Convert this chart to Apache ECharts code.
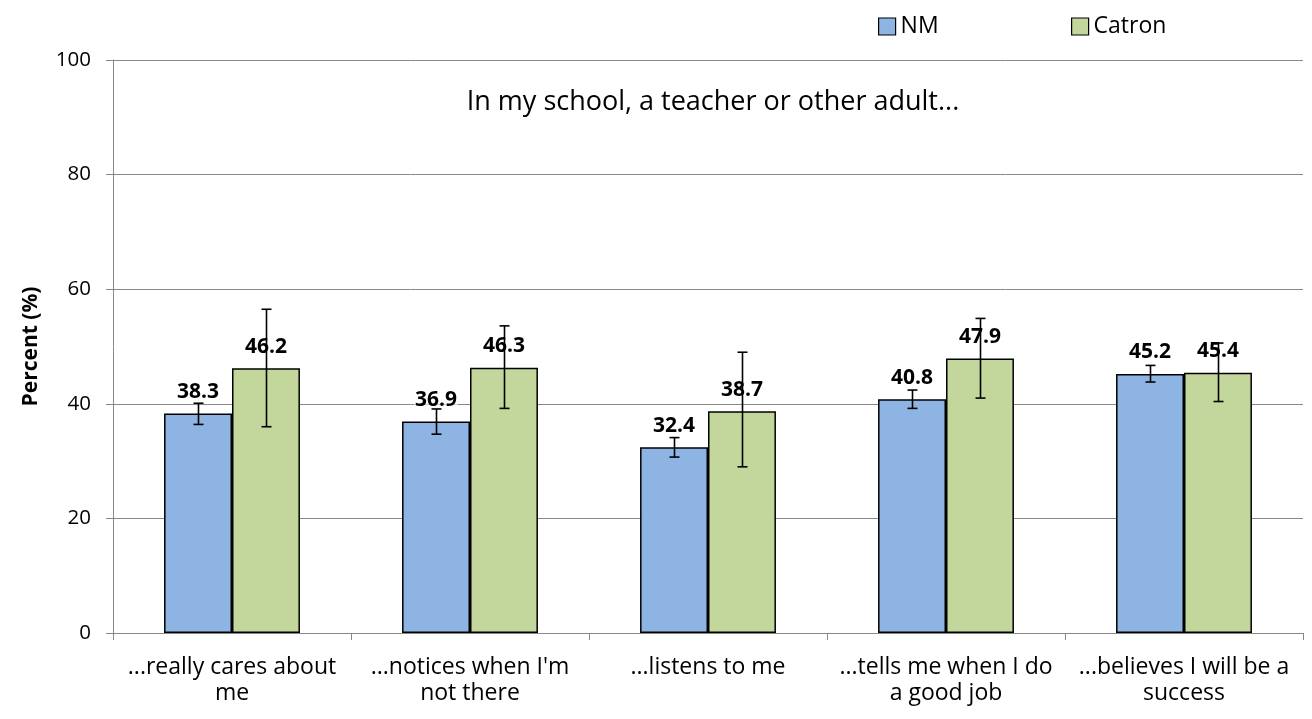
<!DOCTYPE html>
<html>
<head>
<meta charset="utf-8">
<script src="https://cdn.jsdelivr.net/npm/echarts@6/dist/echarts.min.js"></script>
<style>
  html, body { margin: 0; padding: 0; background: #fff; }
  #chart { width: 1312px; height: 719px; }
</style>
</head>
<body>
<div id="chart"></div>
<script>
// Survey items (wrapped onto two lines for the axis)
const categories = [
  '...really cares about\nme',
  '...notices when I\'m\nnot there',
  '...listens to me',
  '...tells me when I do\na good job',
  '...believes I will be a\nsuccess'
];
const seriesNames = ['NM', 'Catron'];

// Percent responding, with 95% confidence bounds
const nmValues = [38.3, 36.9, 32.4, 40.8, 45.2];
const nmLow = [36.4, 34.7, 30.7, 39.2, 43.8];
const nmHigh = [40.1, 39.1, 34.1, 42.4, 46.7];

const catronValues = [46.2, 46.3, 38.7, 47.9, 45.4];
const catronLow = [36.0, 39.2, 29.0, 41.0, 40.4];
const catronHigh = [56.5, 53.6, 49.0, 54.9, 50.6];

const yTicks = [0, 20, 40, 60, 80, 100];

const FONT = '"Open Sans", "Noto Sans", sans-serif';
const BAR_CATEGORY_GAP = 0.429;

const chart = echarts.init(document.getElementById('chart'));

// Error bar drawn at the centre of the given series' bar (side -1 = left bar, +1 = right bar)
function errorBarSeries(name, low, high, side) {
  return {
    type: 'custom',
    name: name + ' CI',
    z: 5,
    silent: true,
    data: low.map((lo, i) => [i, lo, high[i]]),
    renderItem: function (params, api) {
      const catWidth = api.size([1, 0])[0];
      const barW = catWidth * (1 - BAR_CATEGORY_GAP) / 2;
      const lowPt = api.coord([api.value(0), api.value(1)]);
      const highPt = api.coord([api.value(0), api.value(2)]);
      const x = Math.round(lowPt[0] + side * barW / 2) + 0.5;
      const cap = 5;
      const style = { stroke: '#000', lineWidth: 1.6 };
      return {
        type: 'group',
        children: [
          { type: 'line', shape: { x1: x, y1: highPt[1], x2: x, y2: lowPt[1] }, style: style },
          { type: 'line', shape: { x1: x - cap, y1: highPt[1], x2: x + cap, y2: highPt[1] }, style: style },
          { type: 'line', shape: { x1: x - cap, y1: lowPt[1], x2: x + cap, y2: lowPt[1] }, style: style }
        ]
      };
    }
  };
}

const barLabel = {
  show: true,
  position: 'top',
  distance: 11,
  fontFamily: FONT,
  fontSize: 21,
  fontWeight: 'bold',
  color: '#000',
  backgroundColor: 'rgba(255,255,255,0.55)',
  padding: [0, 1],
  formatter: p => p.value.toFixed(1)
};

const legendBase = {
  icon: 'rect', itemWidth: 17, itemHeight: 17, itemGap: 6,
  itemStyle: { borderColor: '#000', borderWidth: 1.2 },
  textStyle: { fontFamily: FONT, fontSize: 23, color: '#000', padding: [0, 0, 0, 0] }
};

chart.setOption({
  animation: false,
  backgroundColor: '#fff',
  textStyle: { fontFamily: FONT },
  title: {
    text: 'In my school, a teacher or other adult...',
    left: 708,
    top: 84,
    textAlign: 'center',
    textStyle: { fontFamily: FONT, fontSize: 27, fontWeight: 'normal', color: '#000' }
  },
  legend: [
    Object.assign({ data: [seriesNames[0]], left: 873, top: 10 }, legendBase),
    Object.assign({ data: [seriesNames[1]], left: 1066, top: 10 }, legendBase)
  ],
  grid: { left: 113, right: 9, top: 60, bottom: 86, containLabel: false },
  xAxis: {
    type: 'category',
    data: categories,
    axisLine: { show: true, lineStyle: { color: '#888', width: 1 } },
    axisTick: { show: true, length: 7, interval: 0, alignWithLabel: false, lineStyle: { color: '#888' } },
    axisLabel: {
      interval: 0, margin: 21, fontFamily: FONT, fontSize: 23, lineHeight: 26, color: '#000'
    }
  },
  yAxis: {
    type: 'value',
    min: yTicks[0],
    max: yTicks[yTicks.length - 1],
    interval: yTicks[1] - yTicks[0],
    name: 'Percent (%)',
    nameLocation: 'middle',
    nameGap: 71,
    nameRotate: 90,
    nameTextStyle: { fontFamily: FONT, fontSize: 21, fontWeight: 'bold', color: '#000' },
    axisLine: { show: true, lineStyle: { color: '#888', width: 1 } },
    axisTick: { show: true, length: 7, inside: false, lineStyle: { color: '#888' } },
    axisLabel: { margin: 22, fontFamily: FONT, fontSize: 20.5, color: '#000' },
    splitLine: { show: true, lineStyle: { color: '#888', width: 1 } }
  },
  series: [
    {
      name: seriesNames[0],
      type: 'bar',
      data: nmValues,
      barGap: '0%',
      barCategoryGap: (BAR_CATEGORY_GAP * 100) + '%',
      itemStyle: { color: '#8EB4E3', borderColor: '#000', borderWidth: 1.5 },
      label: barLabel,
      z: 2
    },
    {
      name: seriesNames[1],
      type: 'bar',
      data: catronValues,
      barGap: '0%',
      barCategoryGap: (BAR_CATEGORY_GAP * 100) + '%',
      itemStyle: { color: '#C3D69B', borderColor: '#000', borderWidth: 1.5 },
      label: barLabel,
      z: 2
    },
    errorBarSeries(seriesNames[0], nmLow, nmHigh, -1),
    errorBarSeries(seriesNames[1], catronLow, catronHigh, 1)
  ]
});
</script>
</body>
</html>
